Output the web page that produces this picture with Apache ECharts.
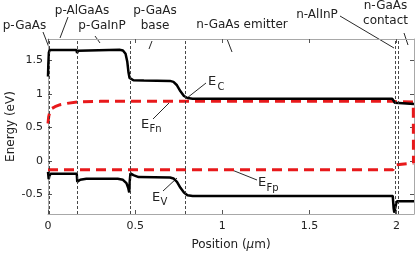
<!DOCTYPE html>
<html><head><meta charset="utf-8">
<script src="https://cdn.jsdelivr.net/npm/echarts@6/dist/echarts.min.js"></script>
<style>html,body{margin:0;padding:0;background:#fff}#c{width:416px;height:255px}</style>
</head><body><div id="c"></div>
<script>
// ---- data ----
const xTicks = [0, 0.5, 1, 1.5, 2];
const yTicks = [-0.5, 0, 0.5, 1, 1.5];
const layerBounds = [0.015, 0.168, 0.467, 0.79, 1.985, 2.007];

const ecX = [0, 0.002, 0.005, 0.01, 0.163, 0.167, 0.172, 0.18, 0.41, 0.43, 0.445, 0.455, 0.462, 0.468, 0.475, 0.49, 0.55, 0.7, 0.72, 0.74, 0.76, 0.78, 0.8, 0.83, 1.975, 1.99, 2.0, 2.1];
const ecY = [1.26, 1.45, 1.62, 1.655, 1.655, 1.61, 1.645, 1.66, 1.66, 1.65, 1.6, 1.48, 1.32, 1.24, 1.215, 1.205, 1.2, 1.195, 1.18, 1.13, 1.04, 0.97, 0.94, 0.93, 0.93, 0.87, 0.85, 0.85];

const evX = [0, 0.004, 0.008, 0.015, 0.165, 0.168, 0.172, 0.185, 0.22, 0.40, 0.43, 0.45, 0.46, 0.466, 0.469, 0.473, 0.49, 0.52, 0.70, 0.72, 0.74, 0.76, 0.78, 0.80, 0.83, 1.978, 1.983, 1.987, 1.993, 1.998, 2.003, 2.1];
const evY = [-0.16, -0.27, -0.22, -0.19, -0.19, -0.31, -0.30, -0.28, -0.265, -0.265, -0.28, -0.33, -0.40, -0.47, -0.30, -0.185, -0.21, -0.24, -0.245, -0.26, -0.31, -0.40, -0.47, -0.51, -0.52, -0.52, -0.70, -0.77, -0.77, -0.63, -0.60, -0.60];

const efnX = [0, 0.004, 0.01, 0.02, 0.04, 0.07, 0.11, 0.17, 0.3, 1.98, 2.0, 2.096, 2.097];
const efnY = [0.56, 0.66, 0.73, 0.78, 0.81, 0.84, 0.86, 0.88, 0.89, 0.89, 0.885, 0.88, -0.03];

const efpX = [0, 1.98, 1.985, 1.99, 2.0, 2.097];
const efpY = [-0.13, -0.13, -0.10, -0.06, -0.04, -0.03];

const layerLabels = ['p-GaAs', 'p-AlGaAs', 'p-GaInP', 'p-GaAs\nbase', 'n-GaAs emitter', 'n-AlInP', 'n-GaAs\ncontact'];
const bandLabels = [['E', 'C'], ['E', 'Fn'], ['E', 'Fp'], ['E', 'V']];

// ---- chart ----
const zip = (xs, ys) => xs.map((x, i) => [x, ys[i]]);
const FONT = 'DejaVu Sans';
const frame = {show: true, onZero: false, lineStyle: {color: '#a8a8a8', width: 1}};
const tick = (vals) => ({show: true, inside: true, length: 4, customValues: vals, lineStyle: {color: '#555', width: 1}});

const chart = echarts.init(document.getElementById('c'), null, {renderer: 'canvas'});

function txt(x, y, s, size, align) {
  return {type: 'text', x: x, y: y, silent: true,
    style: {text: s, font: size + 'px "' + FONT + '"', fill: '#222', align: align || 'center', verticalAlign: 'middle', lineHeight: 15}};
}
function seg(x1, y1, x2, y2) {
  return {type: 'line', silent: true, shape: {x1: x1, y1: y1, x2: x2, y2: y2}, style: {stroke: '#111', lineWidth: 0.9}};
}

const graphics = [
  txt(24.5, 26, layerLabels[0], 12), seg(43, 32, 50, 50),
  txt(82, 11, layerLabels[1], 12), seg(68, 17, 60, 38),
  txt(102, 26, layerLabels[2], 12), seg(95, 36, 100, 43),
  txt(155, 18.5, layerLabels[3], 12), seg(152, 41, 149, 49),
  txt(242, 24.5, layerLabels[4], 12), seg(227, 39, 232, 52),
  txt(317, 15, layerLabels[5], 12), seg(340, 16, 394, 48),
  txt(385.5, 13, layerLabels[6], 12), seg(404, 33, 408, 45),
  // band labels
  txt(208, 82, bandLabels[0][0], 13, 'left'), txt(217.5, 87.5, bandLabels[0][1], 10, 'left'), seg(187, 98, 206, 83),
  txt(141, 125, bandLabels[1][0], 13, 'left'), txt(149.5, 129.5, bandLabels[1][1], 10, 'left'), seg(153, 119, 169, 103),
  txt(258, 183, bandLabels[2][0], 13, 'left'), txt(266.5, 188, bandLabels[2][1], 10, 'left'), seg(232, 170, 257, 180),
  txt(152, 198, bandLabels[3][0], 13, 'left'), txt(160.5, 202.5, bandLabels[3][1], 10, 'left'), seg(163, 191, 177, 178)
];

const xBase = {type: 'value', min: 0, max: 2.1, axisLine: frame, splitLine: {show: false}};
const yBase = {type: 'value', min: -0.79, max: 1.82, axisLine: frame, splitLine: {show: false}};

chart.setOption({
  animation: false,
  backgroundColor: '#fff',
  grid: {left: 48, right: 2, top: 39, bottom: 41, containLabel: false, outerBoundsMode: 'none'},
  xAxis: [
    Object.assign({}, xBase, {position: 'bottom',
      axisTick: tick(xTicks),
      axisLabel: {customValues: xTicks, color: '#222', fontFamily: FONT, fontSize: 11, margin: 7,
        formatter: v => String(v)},
      name: '{n|Position (}{i|μ}{n|m)}', nameLocation: 'middle', nameGap: 25, nameMoveOverlap: false,
      nameTextStyle: {rich: {n: {fontFamily: FONT, fontSize: 12, color: '#222'}, i: {fontFamily: FONT, fontSize: 12, fontStyle: 'italic', color: '#222'}}}
    }),
    Object.assign({}, xBase, {position: 'top', axisTick: tick(xTicks), axisLabel: {show: false}})
  ],
  yAxis: [
    Object.assign({}, yBase, {position: 'left',
      axisTick: tick(yTicks),
      axisLabel: {customValues: yTicks, color: '#222', fontFamily: FONT, fontSize: 11, margin: 5,
        formatter: v => String(v)},
      name: 'Energy (eV)', nameLocation: 'middle', nameGap: 31, nameMoveOverlap: false,
      nameTextStyle: {fontFamily: FONT, fontSize: 12, color: '#222'}
    }),
    Object.assign({}, yBase, {position: 'right', axisTick: tick(yTicks), axisLabel: {show: false}})
  ],
  series: [
    {type: 'line', data: [], silent: true,
      markLine: {silent: true, symbol: 'none', label: {show: false},
        lineStyle: {color: '#333', width: 0.9, type: [3, 2]},
        data: layerBounds.map(b => ({xAxis: b}))}},
    {type: 'line', data: zip(efnX, efnY), showSymbol: false, lineStyle: {color: '#e8191b', width: 3, type: [10, 6]}, z: 3},
    {type: 'line', data: zip(efpX, efpY), showSymbol: false, lineStyle: {color: '#e8191b', width: 3, type: [10, 6]}, z: 3},
    {type: 'line', data: zip(ecX, ecY), showSymbol: false, lineStyle: {color: '#000', width: 2.5}, z: 4},
    {type: 'line', data: zip(evX, evY), showSymbol: false, lineStyle: {color: '#000', width: 2.5}, z: 4}
  ],
  graphic: graphics
});
</script></body></html>
